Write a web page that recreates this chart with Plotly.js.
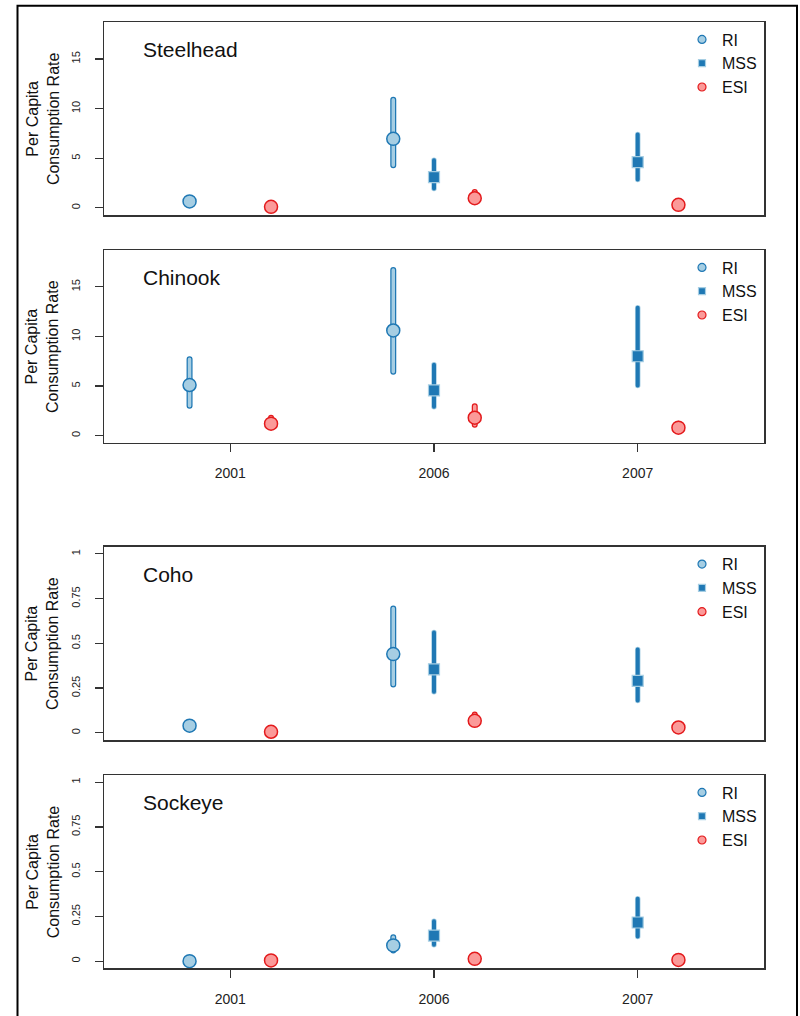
<!DOCTYPE html>
<html>
<head>
<meta charset="utf-8">
<script src="https://cdn.plot.ly/plotly-3.0.1.min.js"></script>
<style>
  html, body { margin: 0; padding: 0; background: #fff; }
  #chart { width: 800px; height: 1016px; }
  g.errorbar path.yerror { stroke-linecap: round; }
</style>
</head>
<body>
<div id="chart"></div>
<script>
// ---------------- DATA ----------------
var years = ['2001', '2006', '2007'];
var species = ['Steelhead', 'Chinook', 'Coho', 'Sockeye'];
var seriesNames = ['RI', 'MSS', 'ESI'];

// Steelhead
var steelheadRI     = [0.65, 6.95, null];
var steelheadRI_lo  = [null, 4.3, null];
var steelheadRI_hi  = [null, 10.9, null];
var steelheadMSS    = [null, 3.1, 4.6];
var steelheadMSS_lo = [null, 1.95, 2.85];
var steelheadMSS_hi = [null, 4.8, 7.4];
var steelheadESI    = [0.1, 0.97, 0.3];
var steelheadESI_lo = [null, 0.7, null];
var steelheadESI_hi = [null, 1.6, null];

// Chinook
var chinookRI     = [5.1, 10.6, null];
var chinookRI_lo  = [3.0, 6.45, null];
var chinookRI_hi  = [7.7, 16.7, null];
var chinookMSS    = [null, 4.55, 8.0];
var chinookMSS_lo = [null, 2.9, 5.05];
var chinookMSS_hi = [null, 7.15, 12.9];
var chinookESI    = [1.2, 1.8, 0.8];
var chinookESI_lo = [0.9, 1.1, 0.5];
var chinookESI_hi = [1.8, 2.95, 1.2];

// Coho
var cohoRI     = [0.04, 0.44, null];
var cohoRI_lo  = [null, 0.27, null];
var cohoRI_hi  = [null, 0.695, null];
var cohoMSS    = [null, 0.355, 0.29];
var cohoMSS_lo = [null, 0.23, 0.18];
var cohoMSS_hi = [null, 0.56, 0.465];
var cohoESI    = [0.006, 0.067, 0.03];
var cohoESI_lo = [null, 0.05, null];
var cohoESI_hi = [null, 0.103, null];

// Sockeye
var sockeyeRI     = [0.0, 0.088, null];
var sockeyeRI_lo  = [null, 0.06, null];
var sockeyeRI_hi  = [null, 0.134, null];
var sockeyeMSS    = [null, 0.143, 0.216];
var sockeyeMSS_lo = [null, 0.091, 0.138];
var sockeyeMSS_hi = [null, 0.223, 0.348];
var sockeyeESI    = [0.004, 0.013, 0.007];
var sockeyeESI_lo = [null, null, null];
var sockeyeESI_hi = [null, null, null];

var yTicksBig = [0, 5, 10, 15];
var yTickTextBig = ['0', '5', '10', '15'];
var yTicksSmall = [0, 0.25, 0.5, 0.75, 1];
var yTickTextSmall = ['0', '0.25', '0.5', '0.75', '1'];
var yTitle = 'Per Capita<br>Consumption Rate';

// ---------------- STYLE ----------------
var W = 800, H = 1016;
var FONT = 'Liberation Sans, Arial, Helvetica, sans-serif';
var LIGHTBLUE = '#A6CEE3', DARKBLUE = '#1F78B4', PINK = '#FB9A99', RED = '#E31A1C';
var AXIS = '#333333';

var panelData = [
  {RI:[steelheadRI,steelheadRI_lo,steelheadRI_hi], MSS:[steelheadMSS,steelheadMSS_lo,steelheadMSS_hi], ESI:[steelheadESI,steelheadESI_lo,steelheadESI_hi]},
  {RI:[chinookRI,chinookRI_lo,chinookRI_hi], MSS:[chinookMSS,chinookMSS_lo,chinookMSS_hi], ESI:[chinookESI,chinookESI_lo,chinookESI_hi]},
  {RI:[cohoRI,cohoRI_lo,cohoRI_hi], MSS:[cohoMSS,cohoMSS_lo,cohoMSS_hi], ESI:[cohoESI,cohoESI_lo,cohoESI_hi]},
  {RI:[sockeyeRI,sockeyeRI_lo,sockeyeRI_hi], MSS:[sockeyeMSS,sockeyeMSS_lo,sockeyeMSS_hi], ESI:[sockeyeESI,sockeyeESI_lo,sockeyeESI_hi]}
];

// pixel geometry of the panels
var plotLeft = 104, plotRight = 764;
var panels = [
  {top: 22,    bottom: 215,   yrange: [-0.72, 18.72], ticks: yTicksBig,   ticktext: yTickTextBig,   xlabels: false},
  {top: 250,   bottom: 442.7, yrange: [-0.72, 18.72], ticks: yTicksBig,   ticktext: yTickTextBig,   xlabels: true},
  {top: 546.7, bottom: 740,   yrange: [-0.04, 1.04],  ticks: yTicksSmall, ticktext: yTickTextSmall, xlabels: false},
  {top: 775,   bottom: 968.3, yrange: [-0.04, 1.04],  ticks: yTicksSmall, ticktext: yTickTextSmall, xlabels: true}
];

var seriesStyle = {
  RI:  {offset: -0.2, symbol: 'circle', size: 13, fill: LIGHTBLUE, edge: DARKBLUE, lw: 1.5,
        barOuter: DARKBLUE, barInner: LIGHTBLUE, outerW: 6, innerW: 3.5, legSize: 8},
  MSS: {offset: 0.0,  symbol: 'square', size: 11, fill: DARKBLUE, edge: LIGHTBLUE, lw: 1.2,
        barOuter: LIGHTBLUE, barInner: DARKBLUE, outerW: 5.5, innerW: 4, legSize: 7},
  ESI: {offset: 0.2,  symbol: 'circle', size: 13, fill: PINK, edge: RED, lw: 1.5,
        barOuter: RED, barInner: PINK, outerW: 6, innerW: 3.5, legSize: 8}
};

function px2y(p) { return 1 - p / H; }

var traces = [];
var layout = {
  width: W, height: H,
  margin: {l: 0, r: 0, t: 0, b: 0},
  paper_bgcolor: '#ffffff', plot_bgcolor: '#ffffff',
  font: {family: FONT, color: '#111111'},
  showlegend: true,
  annotations: [],
  shapes: []
};

panels.forEach(function(p, k) {
  var sfx = k === 0 ? '' : String(k + 1);
  var xa = 'x' + sfx, ya = 'y' + sfx;
  var legName = k === 0 ? 'legend' : 'legend' + (k + 1);
  var d = panelData[k];

  seriesNames.forEach(function(name) {
    var st = seriesStyle[name];
    var vals = d[name][0], lo = d[name][1], hi = d[name][2];
    var xs = [], ys = [], ep = [], em = [];
    vals.forEach(function(v, i) {
      if (v === null) return;
      xs.push(i + 1 + st.offset);
      ys.push(v);
      ep.push(hi[i] === null ? 0 : hi[i] - v);
      em.push(lo[i] === null ? 0 : v - lo[i]);
    });
    // outer bar
    traces.push({
      type: 'scatter', mode: 'markers', x: xs, y: ys, xaxis: xa, yaxis: ya,
      marker: {size: 1, opacity: 0},
      error_y: {type: 'data', symmetric: false, array: ep, arrayminus: em,
                color: st.barOuter, thickness: st.outerW, width: 0},
      showlegend: false, hoverinfo: 'skip'
    });
    // inner bar + marker
    traces.push({
      type: 'scatter', mode: 'markers', x: xs, y: ys, xaxis: xa, yaxis: ya,
      marker: {symbol: st.symbol, size: st.size, color: st.fill, line: {color: st.edge, width: st.lw}},
      error_y: {type: 'data', symmetric: false, array: ep, arrayminus: em,
                color: st.barInner, thickness: st.innerW, width: 0},
      showlegend: false, name: name
    });
    // legend entry
    traces.push({
      type: 'scatter', mode: 'markers', x: [null], y: [null], xaxis: xa, yaxis: ya,
      marker: {symbol: st.symbol, size: st.legSize, color: st.fill, line: {color: st.edge, width: 1.2}},
      name: name, legend: legName, showlegend: true
    });
  });

  var dom = [px2y(p.bottom), px2y(p.top)];
  layout['xaxis' + sfx] = {
    domain: [plotLeft / W, plotRight / W], anchor: ya,
    range: [0.38, 3.62], showgrid: false, zeroline: false,
    showline: true, mirror: true, linecolor: AXIS, linewidth: 1.5,
    tickmode: 'array', tickvals: [1, 2, 3], ticktext: years,
    ticks: p.xlabels ? 'outside' : '', ticklen: 8, tickwidth: 1.2, tickcolor: AXIS,
    showticklabels: p.xlabels, ticklabelstandoff: 9,
    tickfont: {family: FONT, size: 14, color: '#222'}, fixedrange: true
  };
  layout['yaxis' + sfx] = {
    domain: dom, anchor: xa,
    range: p.yrange, showgrid: false, zeroline: false,
    showline: true, mirror: true, linecolor: AXIS, linewidth: 1.5,
    tickmode: 'array', tickvals: p.ticks, ticktext: p.ticktext,
    ticks: 'outside', ticklen: 8, tickwidth: 1.2, tickcolor: AXIS,
    tickangle: -90, ticklabelstandoff: 10,
    tickfont: {family: FONT, size: 11, color: '#222'}, fixedrange: true
  };

  layout[legName] = {
    x: 682 / W, xanchor: 'left', xref: 'paper',
    y: px2y(p.top + 0.5), yanchor: 'top', yref: 'paper',
    bgcolor: 'rgba(0,0,0,0)', borderwidth: 0,
    font: {family: FONT, size: 16, color: '#111'},
    itemsizing: 'trace', tracegroupgap: 0
  };

  layout.annotations.push({
    xref: 'paper', yref: 'paper', x: 141 / W, y: px2y(p.top + 27.3),
    xanchor: 'left', yanchor: 'middle', showarrow: false,
    text: species[k], font: {family: FONT, size: 21, color: '#111'}
  });
  layout.annotations.push({
    xref: 'paper', yref: 'paper', x: 42.6 / W, y: px2y((p.top + p.bottom) / 2),
    xanchor: 'center', yanchor: 'middle', showarrow: false, textangle: -90,
    text: yTitle, font: {family: FONT, size: 16, color: '#111'}
  });
});

// outer frame
layout.shapes.push({
  type: 'rect', xref: 'paper', yref: 'paper',
  x0: 17.5 / W, x1: 797 / W, y0: -0.02, y1: px2y(5.7),
  line: {color: '#000', width: 2}, fillcolor: 'rgba(0,0,0,0)'
});

Plotly.newPlot('chart', traces, layout, {staticPlot: true, displayModeBar: false});
</script>
</body>
</html>
